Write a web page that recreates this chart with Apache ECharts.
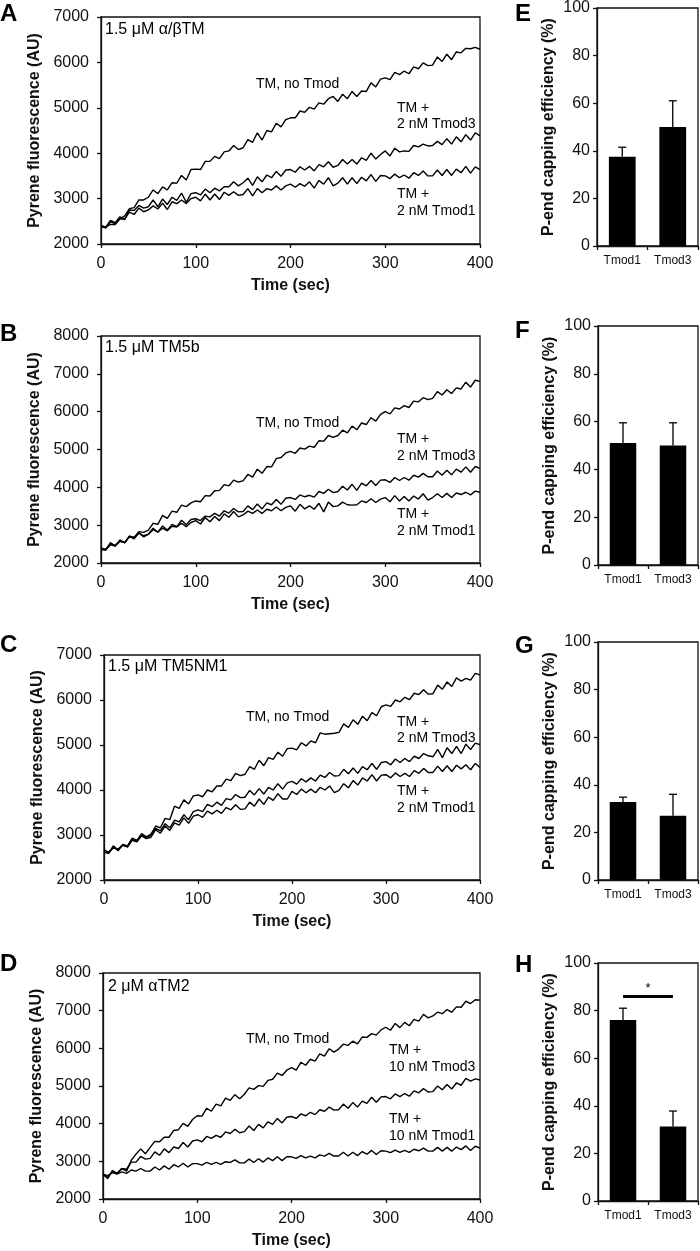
<!DOCTYPE html>
<html><head><meta charset="utf-8">
<script src="https://cdn.jsdelivr.net/npm/echarts@6/dist/echarts.min.js"></script>
<style>html,body{margin:0;padding:0;background:#fff}#c{width:700px;height:1251px}</style>
</head><body><div id="c"></div>
<script>
// ---- time grid (s), sampled every 5 s ----
const times = [];
for (let i = 0; i <= 80; i++) times.push(i * 5);

// ---- Panel A: 1.5 uM a/bTM ----
const A_noTmod = [2380,2370,2430,2430,2550,2620,2780,2800,2970,2970, 3030,3190,3110,3260,3190,3350,3340,3510,3410,3640, 3650,3640,3820,3820,3930,3880,4030,4050,4170,4080, 4120,4300,4240,4450,4290,4500,4470,4660,4580,4740, 4780,4780,4930,4900,5010,4970,5110,5080,5200,5250, 5140,5300,5200,5360,5250,5370,5360,5550,5460,5630, 5660,5620,5780,5730,5810,5750,5900,5860,5990,5930, 5940,6120,6020,6180,6060,6230,6210,6310,6300,6330, 6290];
const A_tmod3 = [2390,2350,2490,2450,2560,2540,2750,2740,2850,2790, 2820,2970,2820,2990,2870,3030,2960,3120,2920,3110, 3130,3080,3210,3130,3230,3170,3260,3260,3370,3280, 3350,3450,3290,3480,3370,3520,3460,3600,3490,3630, 3640,3580,3700,3630,3710,3610,3750,3700,3810,3690, 3730,3860,3760,3860,3760,3900,3840,4000,3870,3970, 4050,3940,4110,4030,4050,4040,4170,4140,4200,4160, 4170,4260,4190,4320,4200,4360,4250,4410,4290,4450, 4380];
const A_tmod1 = [2410,2370,2520,2470,2600,2550,2700,2650,2790,2710, 2750,2840,2770,2900,2760,2930,2890,2970,2890,3000, 3030,2950,3100,2970,3100,2980,3140,3070,3150,3070, 3090,3220,3060,3220,3130,3220,3190,3280,3190,3280, 3320,3250,3330,3270,3370,3230,3400,3320,3460,3280, 3340,3460,3320,3460,3330,3470,3390,3530,3380,3510, 3500,3440,3540,3460,3520,3450,3570,3510,3610,3500, 3500,3630,3510,3640,3510,3650,3570,3710,3560,3700, 3640];

// ---- Panel B: 1.5 uM TM5b ----
const B_noTmod = [2350,2340,2480,2450,2570,2540,2710,2680,2830,2810, 2870,3050,3020,3260,3180,3370,3340,3530,3490,3590, 3640,3620,3780,3770,3910,3920,4070,4040,4190,4140, 4170,4340,4270,4480,4370,4550,4540,4760,4790,4910, 4950,4900,5040,5010,5090,5060,5230,5220,5370,5320, 5370,5510,5440,5620,5520,5700,5660,5840,5750,5930, 6000,5940,6100,6070,6160,6110,6280,6260,6370,6320, 6350,6530,6440,6580,6480,6630,6600,6780,6650,6830, 6800];
const B_tmod3 = [2380,2360,2500,2470,2580,2540,2690,2660,2790,2720, 2760,2920,2810,2980,2870,3020,2960,3130,3010,3150, 3170,3120,3240,3220,3310,3240,3380,3320,3440,3350, 3360,3510,3410,3560,3430,3590,3540,3680,3550,3710, 3730,3680,3800,3750,3790,3740,3890,3840,3950,3860, 3890,4030,3930,4080,3920,4110,4040,4180,4050,4190, 4200,4130,4260,4180,4260,4190,4320,4270,4370,4280, 4280,4430,4320,4450,4330,4480,4400,4540,4400,4550, 4500];
const B_tmod1 = [2400,2350,2540,2450,2610,2530,2710,2640,2800,2690, 2760,2880,2820,2920,2850,2970,2950,3050,2960,3070, 3120,3030,3200,3090,3230,3120,3300,3210,3360,3220, 3270,3370,3310,3400,3310,3420,3380,3480,3380,3470, 3510,3370,3550,3430,3510,3420,3580,3350,3610,3490, 3510,3610,3540,3530,3540,3640,3600,3700,3600,3690, 3730,3620,3780,3640,3760,3640,3770,3690,3830,3660, 3730,3830,3730,3840,3730,3850,3810,3870,3800,3900, 3870];

// ---- Panel C: 1.5 uM TM5NM1 ----
const C_noTmod = [2610,2600,2760,2650,2790,2760,2930,2880,3030,2960, 3020,3200,3160,3370,3340,3640,3590,3780,3690,3870, 3890,3850,4000,3960,4090,4090,4240,4210,4370,4320, 4350,4520,4460,4660,4540,4720,4680,4840,4750,4920, 4930,4890,5050,4980,5090,5050,5270,5240,5250,5260, 5280,5470,5390,5560,5460,5640,5540,5720,5650,5850, 5890,5860,6000,5960,6060,6010,6150,6120,6230,6130, 6140,6330,6240,6400,6300,6490,6420,6480,6440,6590, 6560];
const C_tmod3 = [2670,2620,2710,2690,2780,2740,2900,2860,3000,2940, 2990,3150,3090,3250,3160,3330,3290,3450,3340,3520, 3560,3520,3680,3630,3730,3660,3810,3780,3900,3830, 3840,3990,3890,4030,3910,4060,4000,4140,4020,4160, 4190,4130,4250,4180,4270,4200,4330,4280,4390,4310, 4320,4460,4360,4490,4370,4520,4450,4590,4460,4610, 4630,4560,4690,4610,4700,4630,4750,4700,4810,4760, 4740,4900,4720,4940,4810,4970,4810,5020,4900,5040, 5010];
const C_tmod1 = [2630,2590,2740,2670,2770,2730,2880,2850,2980,2920, 2950,3120,3040,3200,3100,3270,3220,3380,3260,3420, 3450,3390,3530,3470,3550,3480,3610,3560,3670,3570, 3580,3730,3640,3800,3680,3840,3770,3920,3800,3800, 3970,3900,4020,3940,4020,3940,4060,4000,4090,3940, 3990,4140,4050,4210,4110,4270,4200,4340,4200,4330, 4340,4270,4380,4300,4370,4300,4430,4370,4480,4390, 4390,4530,4410,4540,4410,4550,4470,4560,4450,4590, 4500];

// ---- Panel D: 2 uM aTM2 ----
const D_noTmod = [2670,2540,2760,2670,2810,2740,3030,3190,3330,3200, 3370,3530,3520,3640,3640,3820,3840,4010,3930,4110, 4210,4200,4410,4330,4520,4470,4680,4620,4770,4660, 4780,4950,4910,5010,4990,5150,5180,5340,5280,5420, 5490,5420,5630,5550,5710,5660,5850,5790,5990,5900, 5980,6110,6080,6190,6120,6300,6290,6390,6350,6490, 6560,6480,6660,6550,6690,6600,6770,6720,6900,6810, 6860,6960,6920,7030,6960,7100,7090,7250,7190,7290, 7280];
const D_tmod3 = [2630,2580,2720,2690,2810,2790,2980,2980,3130,3060, 3080,3250,3160,3330,3230,3380,3340,3500,3380,3540, 3570,3520,3660,3610,3690,3640,3780,3740,3850,3760, 3790,3940,3820,3980,3890,4050,3980,4140,4020,4170, 4190,4140,4260,4210,4300,4240,4370,4330,4440,4360, 4370,4520,4410,4560,4440,4600,4540,4700,4570,4710, 4720,4660,4790,4720,4800,4730,4870,4820,4930,4840, 4850,5000,4900,5040,4920,5080,5020,5200,5130,5190, 5160];
const D_tmod1 = [2660,2620,2700,2660,2720,2680,2770,2740,2810,2740, 2740,2850,2770,2880,2790,2910,2850,2950,2850,2940, 2940,2900,2970,2920,2970,2920,2990,2970,3040,2960, 2960,3060,2970,3070,2980,3090,3020,3120,3020,3120, 3120,3080,3150,3090,3140,3090,3170,3140,3210,3140, 3140,3240,3140,3240,3150,3260,3190,3290,3180,3280, 3270,3230,3300,3240,3290,3240,3320,3280,3350,3270, 3270,3370,3270,3370,3270,3380,3310,3410,3290,3400, 3350];

// ---- Bar panels E-H: P-end capping efficiency (%) ----
const barCats = ['Tmod1', 'Tmod3'];
const E_mean = [37.5, 50.0], E_errTop = [41.5, 61.0];
const F_mean = [51.0, 50.0], F_errTop = [59.5, 59.5];
const G_mean = [32.8, 27.0], G_errTop = [34.8, 36.0];
const H_mean = [76.0, 31.3], H_errTop = [81.0, 37.8];
const H_sigLevel = 86;

const lineYRange = { A: [2000, 7000], B: [2000, 8000], C: [2000, 7000], D: [2000, 8000] };
const panelTitles = { A: '1.5 \u03BCM \u03B1/\u03B2TM', B: '1.5 \u03BCM TM5b', C: '1.5 \u03BCM TM5NM1', D: '2 \u03BCM \u03B1TM2' };

// ---------------------------------------------------------
const FONT = 'Liberation Sans, Arial, sans-serif';
const chart = echarts.init(document.getElementById('c'), null, { renderer: 'canvas' });

const lineGrids = [
  { left: 101, top: 17, width: 379, height: 227 },
  { left: 101, top: 336, width: 379, height: 227 },
  { left: 104, top: 655, width: 376, height: 225 },
  { left: 103, top: 973, width: 377, height: 226 }
];
const barGrids = [
  { left: 597, top: 6, width: 101, height: 240 },
  { left: 598, top: 326, width: 100, height: 239 },
  { left: 598, top: 642, width: 100, height: 238 },
  { left: 598, top: 963, width: 100, height: 238 }
];
const grids = lineGrids.concat(barGrids).map(g => Object.assign({
  show: true, borderColor: '#111', borderWidth: 1.3, backgroundColor: 'transparent', containLabel: false
}, g));

const xAxes = [], yAxes = [], series = [];
const lineKeys = ['A', 'B', 'C', 'D'];
const lineData = {
  A: [A_noTmod, A_tmod3, A_tmod1], B: [B_noTmod, B_tmod3, B_tmod1],
  C: [C_noTmod, C_tmod3, C_tmod1], D: [D_noTmod, D_tmod3, D_tmod1]
};
const axisLineStyle = { show: true, lineStyle: { color: '#111', width: 1.3 } };
const tickStyle = { show: true, inside: false, length: 4, lineStyle: { color: '#111', width: 1.3 } };
const plain = v => String(v);
lineKeys.forEach((k, i) => {
  xAxes.push({
    type: 'value', gridIndex: i, min: 0, max: 400, interval: 100,
    axisLine: axisLineStyle, axisTick: tickStyle,
    axisLabel: { color: '#111', fontSize: 16, fontFamily: FONT, margin: 12, formatter: plain },
    splitLine: { show: false },
    name: 'Time (sec)', nameLocation: 'middle', nameGap: 34,
    nameTextStyle: { color: '#111', fontSize: 16, fontWeight: 'bold', fontFamily: FONT }
  });
  yAxes.push({
    type: 'value', gridIndex: i, min: lineYRange[k][0], max: lineYRange[k][1], interval: 1000,
    axisLine: axisLineStyle, axisTick: tickStyle,
    axisLabel: { color: '#111', fontSize: 16, fontFamily: FONT, margin: 12, formatter: plain },
    splitLine: { show: false },
    name: 'Pyrene fluorescence (AU)', nameLocation: 'middle', nameGap: 56,
    nameTextStyle: { color: '#111', fontSize: 16, fontWeight: 'bold', fontFamily: FONT }
  });
  lineData[k].forEach(arr => {
    series.push({
      type: 'line', xAxisIndex: i, yAxisIndex: i, showSymbol: false, silent: true,
      data: times.map((t, j) => [t, arr[j]]),
      lineStyle: { color: '#000', width: 1.4 }, animation: false
    });
  });
});

const barSets = [
  [E_mean, E_errTop], [F_mean, F_errTop], [G_mean, G_errTop], [H_mean, H_errTop]
];
barSets.forEach((set, j) => {
  const gi = 4 + j;
  xAxes.push({
    type: 'category', gridIndex: gi, data: barCats,
    axisLine: axisLineStyle, axisTick: Object.assign({ alignWithLabel: false }, tickStyle),
    axisLabel: { color: '#111', fontSize: 12, fontFamily: FONT, margin: 9, interval: 0 },
    splitLine: { show: false }
  });
  yAxes.push({
    type: 'value', gridIndex: gi, min: 0, max: 100, interval: 20,
    axisLine: axisLineStyle, axisTick: tickStyle,
    axisLabel: { color: '#111', fontSize: 16, fontFamily: FONT, margin: 7, formatter: plain },
    splitLine: { show: false },
    name: 'P-end capping efficiency (%)', nameLocation: 'middle', nameGap: 40,
    nameTextStyle: { color: '#111', fontSize: 16, fontWeight: 'bold', fontFamily: FONT }
  });
  const barSeries = {
    type: 'bar', xAxisIndex: gi, yAxisIndex: gi, data: set[0], barWidth: '53%',
    itemStyle: { color: '#000' }, silent: true, animation: false, z: 2
  };
  if (j === 3) {
    barSeries.markLine = {
      silent: true, symbol: ['none', 'none'], animation: false,
      lineStyle: { color: '#000', width: 3, type: 'solid' },
      label: { show: true, formatter: '*', position: 'middle', color: '#000', fontSize: 13, fontFamily: FONT, distance: 1 },
      data: [[{ coord: [barCats[0], H_sigLevel] }, { coord: [barCats[1], H_sigLevel] }]]
    };
  }
  series.push(barSeries);
  series.push({
    type: 'custom', xAxisIndex: gi, yAxisIndex: gi, silent: true, animation: false, z: 3,
    data: set[0].map((m, c) => [c, m, set[1][c]]),
    renderItem: function (params, api) {
      const base = api.coord([api.value(0), api.value(1)]);
      const top = api.coord([api.value(0), api.value(2)]);
      const hw = 4;
      return {
        type: 'group', children: [
          { type: 'line', shape: { x1: base[0], y1: base[1], x2: top[0], y2: top[1] }, style: { stroke: '#000', lineWidth: 1.3 } },
          { type: 'line', shape: { x1: top[0] - hw, y1: top[1], x2: top[0] + hw, y2: top[1] }, style: { stroke: '#000', lineWidth: 1.3 } }
        ]
      };
    }
  });
});

// ---- text annotations ----
function txt(x, y, s, size, bold) {
  return { type: 'text', x: x, y: y, silent: true,
    style: { text: s, fontSize: size, fontWeight: bold ? 'bold' : 'normal', fontFamily: FONT, fill: '#000', align: 'left', verticalAlign: 'middle' } };
}
const graphics = [
  txt(0, 14, 'A', 24, true), txt(0, 334, 'B', 24, true), txt(0, 645, 'C', 24, true), txt(0, 964, 'D', 24, true),
  txt(515, 14, 'E', 24, true), txt(515, 331, 'F', 24, true), txt(515, 646, 'G', 24, true), txt(515, 965, 'H', 24, true),
  // A
  txt(105, 30, panelTitles.A, 16), txt(256, 84, 'TM, no Tmod', 14),
  txt(397, 108, 'TM +', 14), txt(397, 124, '2 nM Tmod3', 14),
  txt(397, 194, 'TM +', 14), txt(397, 211, '2 nM Tmod1', 14),
  // B
  txt(105, 348, panelTitles.B, 16), txt(256, 423, 'TM, no Tmod', 14),
  txt(397, 439, 'TM +', 14), txt(397, 456, '2 nM Tmod3', 14),
  txt(397, 514, 'TM +', 14), txt(397, 531, '2 nM Tmod1', 14),
  // C
  txt(108, 667, panelTitles.C, 16), txt(246, 717, 'TM, no Tmod', 14),
  txt(397, 722, 'TM +', 14), txt(397, 738, '2 nM Tmod3', 14),
  txt(397, 791, 'TM +', 14), txt(397, 808, '2 nM Tmod1', 14),
  // D
  txt(108, 987, panelTitles.D, 16), txt(246, 1039, 'TM, no Tmod', 14),
  txt(389, 1050, 'TM +', 14), txt(389, 1067, '10 nM Tmod3', 14),
  txt(389, 1119, 'TM +', 14), txt(389, 1136, '10 nM Tmod1', 14)
];

chart.setOption({
  animation: false,
  backgroundColor: '#fff',
  grid: grids,
  xAxis: xAxes,
  yAxis: yAxes,
  series: series,
  graphic: graphics
});
</script>
</body></html>
